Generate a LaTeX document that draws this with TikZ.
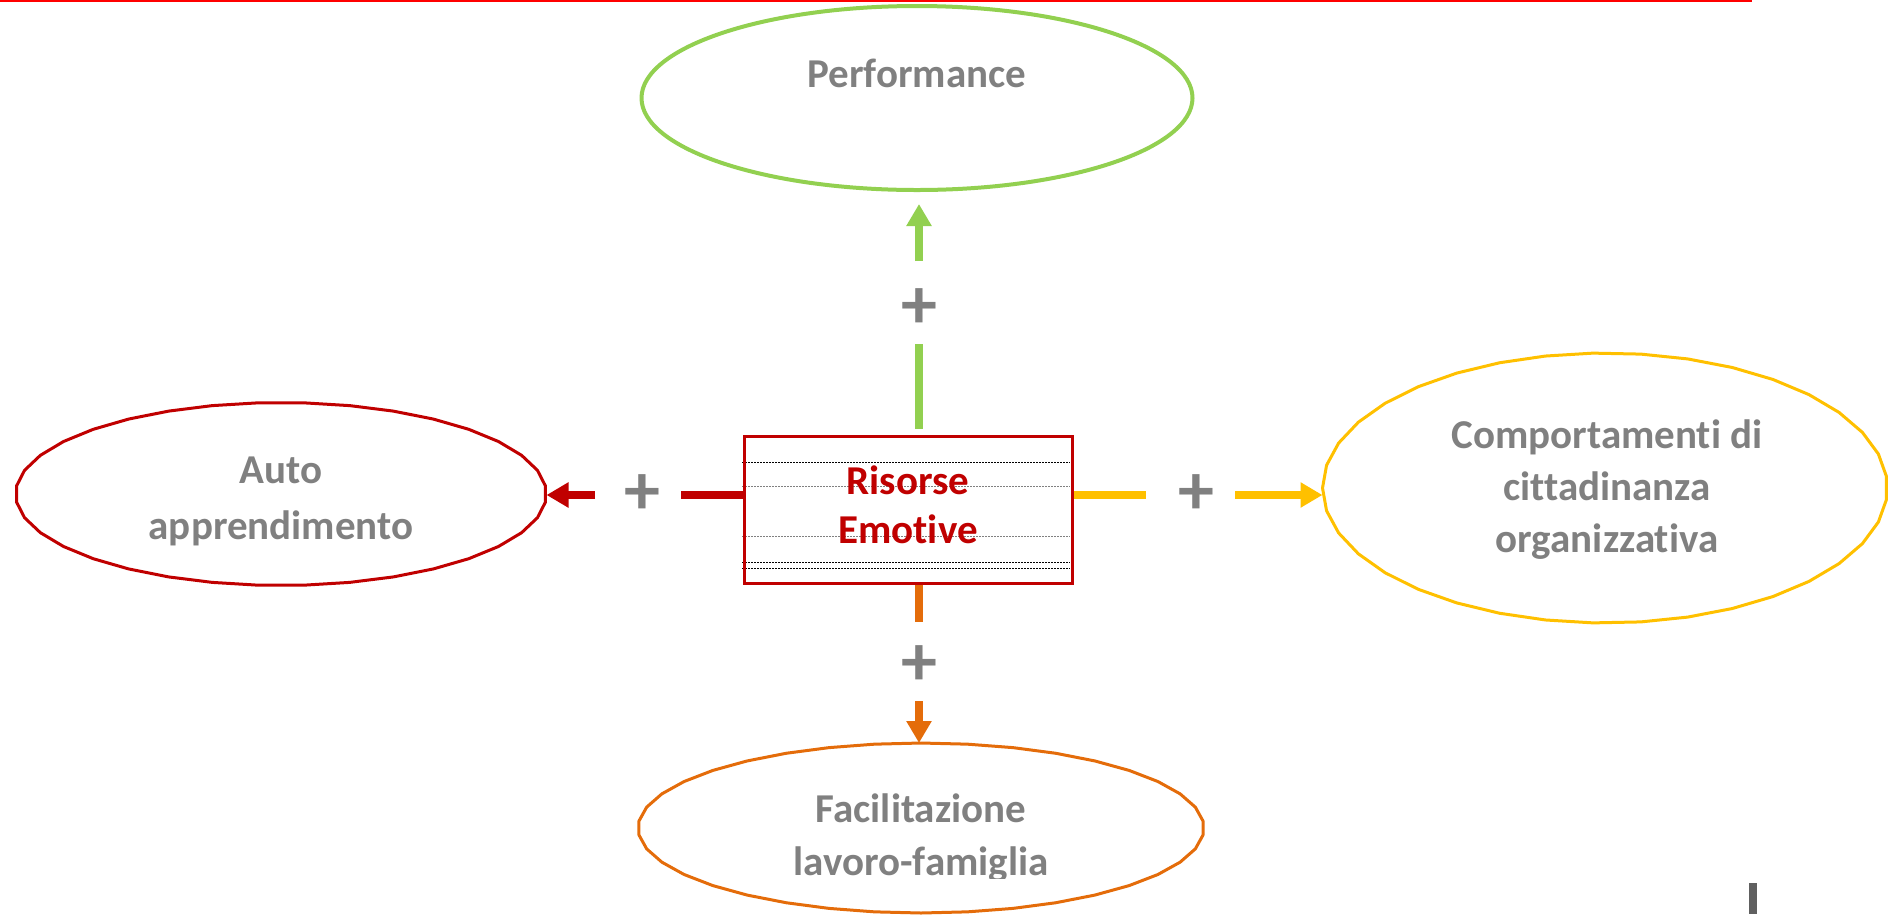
\documentclass[tikz,border=0pt]{standalone}
\usepackage{fontspec}
\setmainfont{Carlito}[Ligatures=NoCommon]
\usetikzlibrary{arrows.meta,shapes.geometric,calc}
\definecolor{cRed}{HTML}{C00000}
\definecolor{cGreen}{HTML}{92D050}
\definecolor{cOrange}{HTML}{E46C0A}
\definecolor{cYellow}{HTML}{FFC000}
\definecolor{cGray}{HTML}{808080}
\definecolor{cTop}{HTML}{FF0000}
\definecolor{cMark}{HTML}{606060}
\begin{document}
\begin{tikzpicture}[x=1pt,y=-1pt,
  lbl/.style={font=\fontsize{41}{52}\selectfont\bfseries, text=cGray, align=center, inner sep=0, anchor=base},
  plussign/.style={font=\fontsize{72}{72}\selectfont\bfseries, text=cGray, inner sep=0},
  conn/.style={line width=8pt},
  tip/.style={-{Triangle[length=22pt,width=24pt]}},
  shp/.style={ellipse, inner sep=0, outer sep=0, draw=none},
  wob/.style={line width=3pt, line join=round},
]
\useasboundingbox (0,0) rectangle (1888,914);
\draw[cTop, line width=2.5pt] (0,1.2) -- (1752,1.2);

% ellipses
\node[shp, draw=cGreen, line width=4pt, minimum width=551pt, minimum height=184pt] (perf) at (917,98) {};
\node[shp, minimum width=531pt, minimum height=183pt] (auto) at (281,494) {};
\draw[wob, draw=cRed] plot[samples=37, domain=5:365, variable=\t] ({281+265.5*cos(\t)},{494+91.5*sin(\t)}) -- cycle;
\node[shp, minimum width=565pt, minimum height=270pt] (comp) at (1605,488) {};
\draw[wob, draw=cYellow] plot[samples=38, domain=180:540, variable=\t] ({1605+282.5*cos(\t)},{488+135*sin(\t)}) -- cycle;
\node[shp, minimum width=566pt, minimum height=170pt] (fac) at (921,828) {};
\draw[wob, draw=cOrange] plot[samples=39, domain=90:450, variable=\t] ({921+283*cos(\t)},{828+85*sin(\t)}) -- cycle;

% central box
\foreach \yy/\cc in {462/black,486/gray,536/gray,562/black,568/black}
  \draw[\cc, line width=0.8pt, dash pattern=on 2pt off 1pt] (742,\yy) -- (1070,\yy);
\node[draw=cRed, line width=3pt, minimum width=328pt, minimum height=147pt, inner sep=0] (box) at (908,509.5) {};
\node[lbl, text=cRed, font=\fontsize{41}{49}\selectfont\bfseries] (tBox) at (908,543) {Risorse\\Emotive};

% labels (base anchor = last line baseline)
\node[lbl] (tPerf) at (917,87) {Performance};
\node[lbl, font=\fontsize{41}{56}\selectfont\bfseries] (tAuto) at (281,539) {Auto\\apprendimento};
\node[lbl] (tComp) at (1607,552) {Comportamenti di\\cittadinanza\\organizzativa};
\begin{scope}
  \clip (0,0) rectangle (1888,878);
  \node[lbl, font=\fontsize{41}{53}\selectfont\bfseries] (tFac) at (921,875) {Facilitazione\\lavoro-famiglia};
\end{scope}

% plus signs
\node[plussign] (pG) at (919,309) {+};
\node[plussign] (pO) at (919,666) {+};
\node[plussign] (pR) at (642,495) {+};
\node[plussign] (pY) at (1196,495) {+};

% connectors
\draw[conn, cGreen, shorten <=6pt, shorten >=35pt] (box.north -| pG) -- (pG.center);
\draw[conn, cGreen, tip, shorten <=48pt, shorten >=14pt] (pG.center) -- (perf.south -| pG);
\draw[conn, cOrange, shorten >=44pt] (box.south -| pO) -- (pO.center);
\draw[conn, cOrange, tip, shorten <=35pt] (pO.center) -- (fac.north -| pO);
\draw[conn, cRed, shorten >=39pt] (box.west |- pR) -- (pR.center);
\draw[conn, cRed, tip, shorten <=47pt] (pR.center) -- (auto.east |- pR);
\draw[conn, cYellow, shorten >=50pt] (box.east |- pY) -- (pY.center);
\draw[conn, cYellow, tip, shorten <=39pt] (pY.center) -- (comp.west |- pY);

% corner mark
\fill[cMark] (1749,883) rectangle (1757,914);
\end{tikzpicture}
\end{document}
